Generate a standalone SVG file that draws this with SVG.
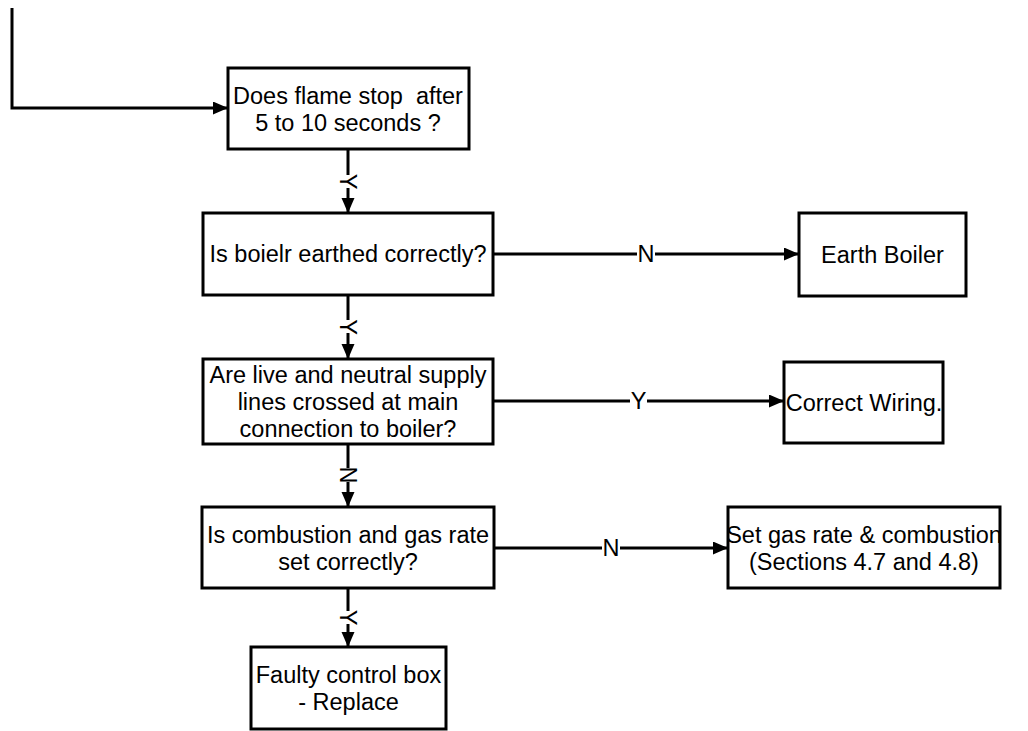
<svg xmlns="http://www.w3.org/2000/svg" width="1028" height="731" viewBox="0 0 1028 731">
<defs>
<marker id="arr" markerUnits="userSpaceOnUse" markerWidth="16" markerHeight="14" refX="15" refY="6.5" orient="auto">
<path d="M0,0 L15,6.5 L0,13 Z" fill="#000"/>
</marker>
<style>
.box{fill:#fff;stroke:#000;stroke-width:3}
.t{font-family:"Liberation Sans",Arial,sans-serif;font-size:23.5px;fill:#000;text-anchor:middle;white-space:pre}
.ln{fill:none;stroke:#000;stroke-width:3}
.bg{fill:#fff}
</style>
</defs>
<g id="connectors">
<path class="ln" d="M12,8 L12,108 L228,108" marker-end="url(#arr)"/>
<path class="ln" d="M348,149 L348,213" marker-end="url(#arr)"/>
<path class="ln" d="M348,295 L348,359" marker-end="url(#arr)"/>
<path class="ln" d="M348,444 L348,507" marker-end="url(#arr)"/>
<path class="ln" d="M348,588 L348,647" marker-end="url(#arr)"/>
<path class="ln" d="M493,254 L799,254" marker-end="url(#arr)"/>
<path class="ln" d="M493,401 L784,401" marker-end="url(#arr)"/>
<path class="ln" d="M494,548 L728,548" marker-end="url(#arr)"/>
<rect class="bg" x="338" y="175" width="20" height="13"/>
<text class="t" transform="translate(348,181.5) rotate(90)" y="8.4">Y</text>
<rect class="bg" x="338" y="320" width="20" height="13"/>
<text class="t" transform="translate(348,327) rotate(90)" y="8.4">Y</text>
<rect class="bg" x="338" y="468" width="20" height="14"/>
<text class="t" transform="translate(348,475) rotate(90)" y="8.4">N</text>
<rect class="bg" x="338" y="611" width="20" height="13"/>
<text class="t" transform="translate(348,617.5) rotate(90)" y="8.4">Y</text>
<rect class="bg" x="637" y="244" width="18" height="20"/>
<text class="t" x="646" y="262.4">N</text>
<rect class="bg" x="630" y="391" width="17" height="20"/>
<text class="t" x="638.5" y="409.4">Y</text>
<rect class="bg" x="602" y="538" width="18" height="20"/>
<text class="t" x="611" y="556.4">N</text>
</g>
<g id="n1">
<rect class="box" x="228" y="68" width="241" height="81"/>
<text class="t" x="348" y="104">Does flame stop  after</text>
<text class="t" x="348" y="130.7">5 to 10 seconds ?</text>
</g>
<g id="n2">
<rect class="box" x="203" y="213" width="290" height="82"/>
<text class="t" x="348" y="262.4">Is boielr earthed correctly?</text>
</g>
<g id="n3">
<rect class="box" x="799" y="213" width="167" height="83"/>
<text class="t" x="882.5" y="263.3">Earth Boiler</text>
</g>
<g id="n4">
<rect class="box" x="203" y="359" width="290" height="85"/>
<text class="t" x="348" y="383.3">Are live and neutral supply</text>
<text class="t" x="348" y="410.3">lines crossed at main</text>
<text class="t" x="348" y="437.3">connection to boiler?</text>
</g>
<g id="n5">
<rect class="box" x="784" y="362" width="159" height="81"/>
<text class="t" x="864" y="411">Correct Wiring.</text>
</g>
<g id="n6">
<rect class="box" x="202" y="507" width="292" height="81"/>
<text class="t" x="348" y="543.3">Is combustion and gas rate</text>
<text class="t" x="348" y="570">set correctly?</text>
</g>
<g id="n7">
<rect class="box" x="728" y="507" width="272" height="81"/>
<text class="t" x="864" y="543.3">Set gas rate &amp; combustion</text>
<text class="t" x="864" y="570">(Sections 4.7 and 4.8)</text>
</g>
<g id="n8">
<rect class="box" x="251" y="647" width="195" height="82"/>
<text class="t" x="348.5" y="683.3">Faulty control box</text>
<text class="t" x="348.5" y="710">- Replace</text>
</g>
</svg>
